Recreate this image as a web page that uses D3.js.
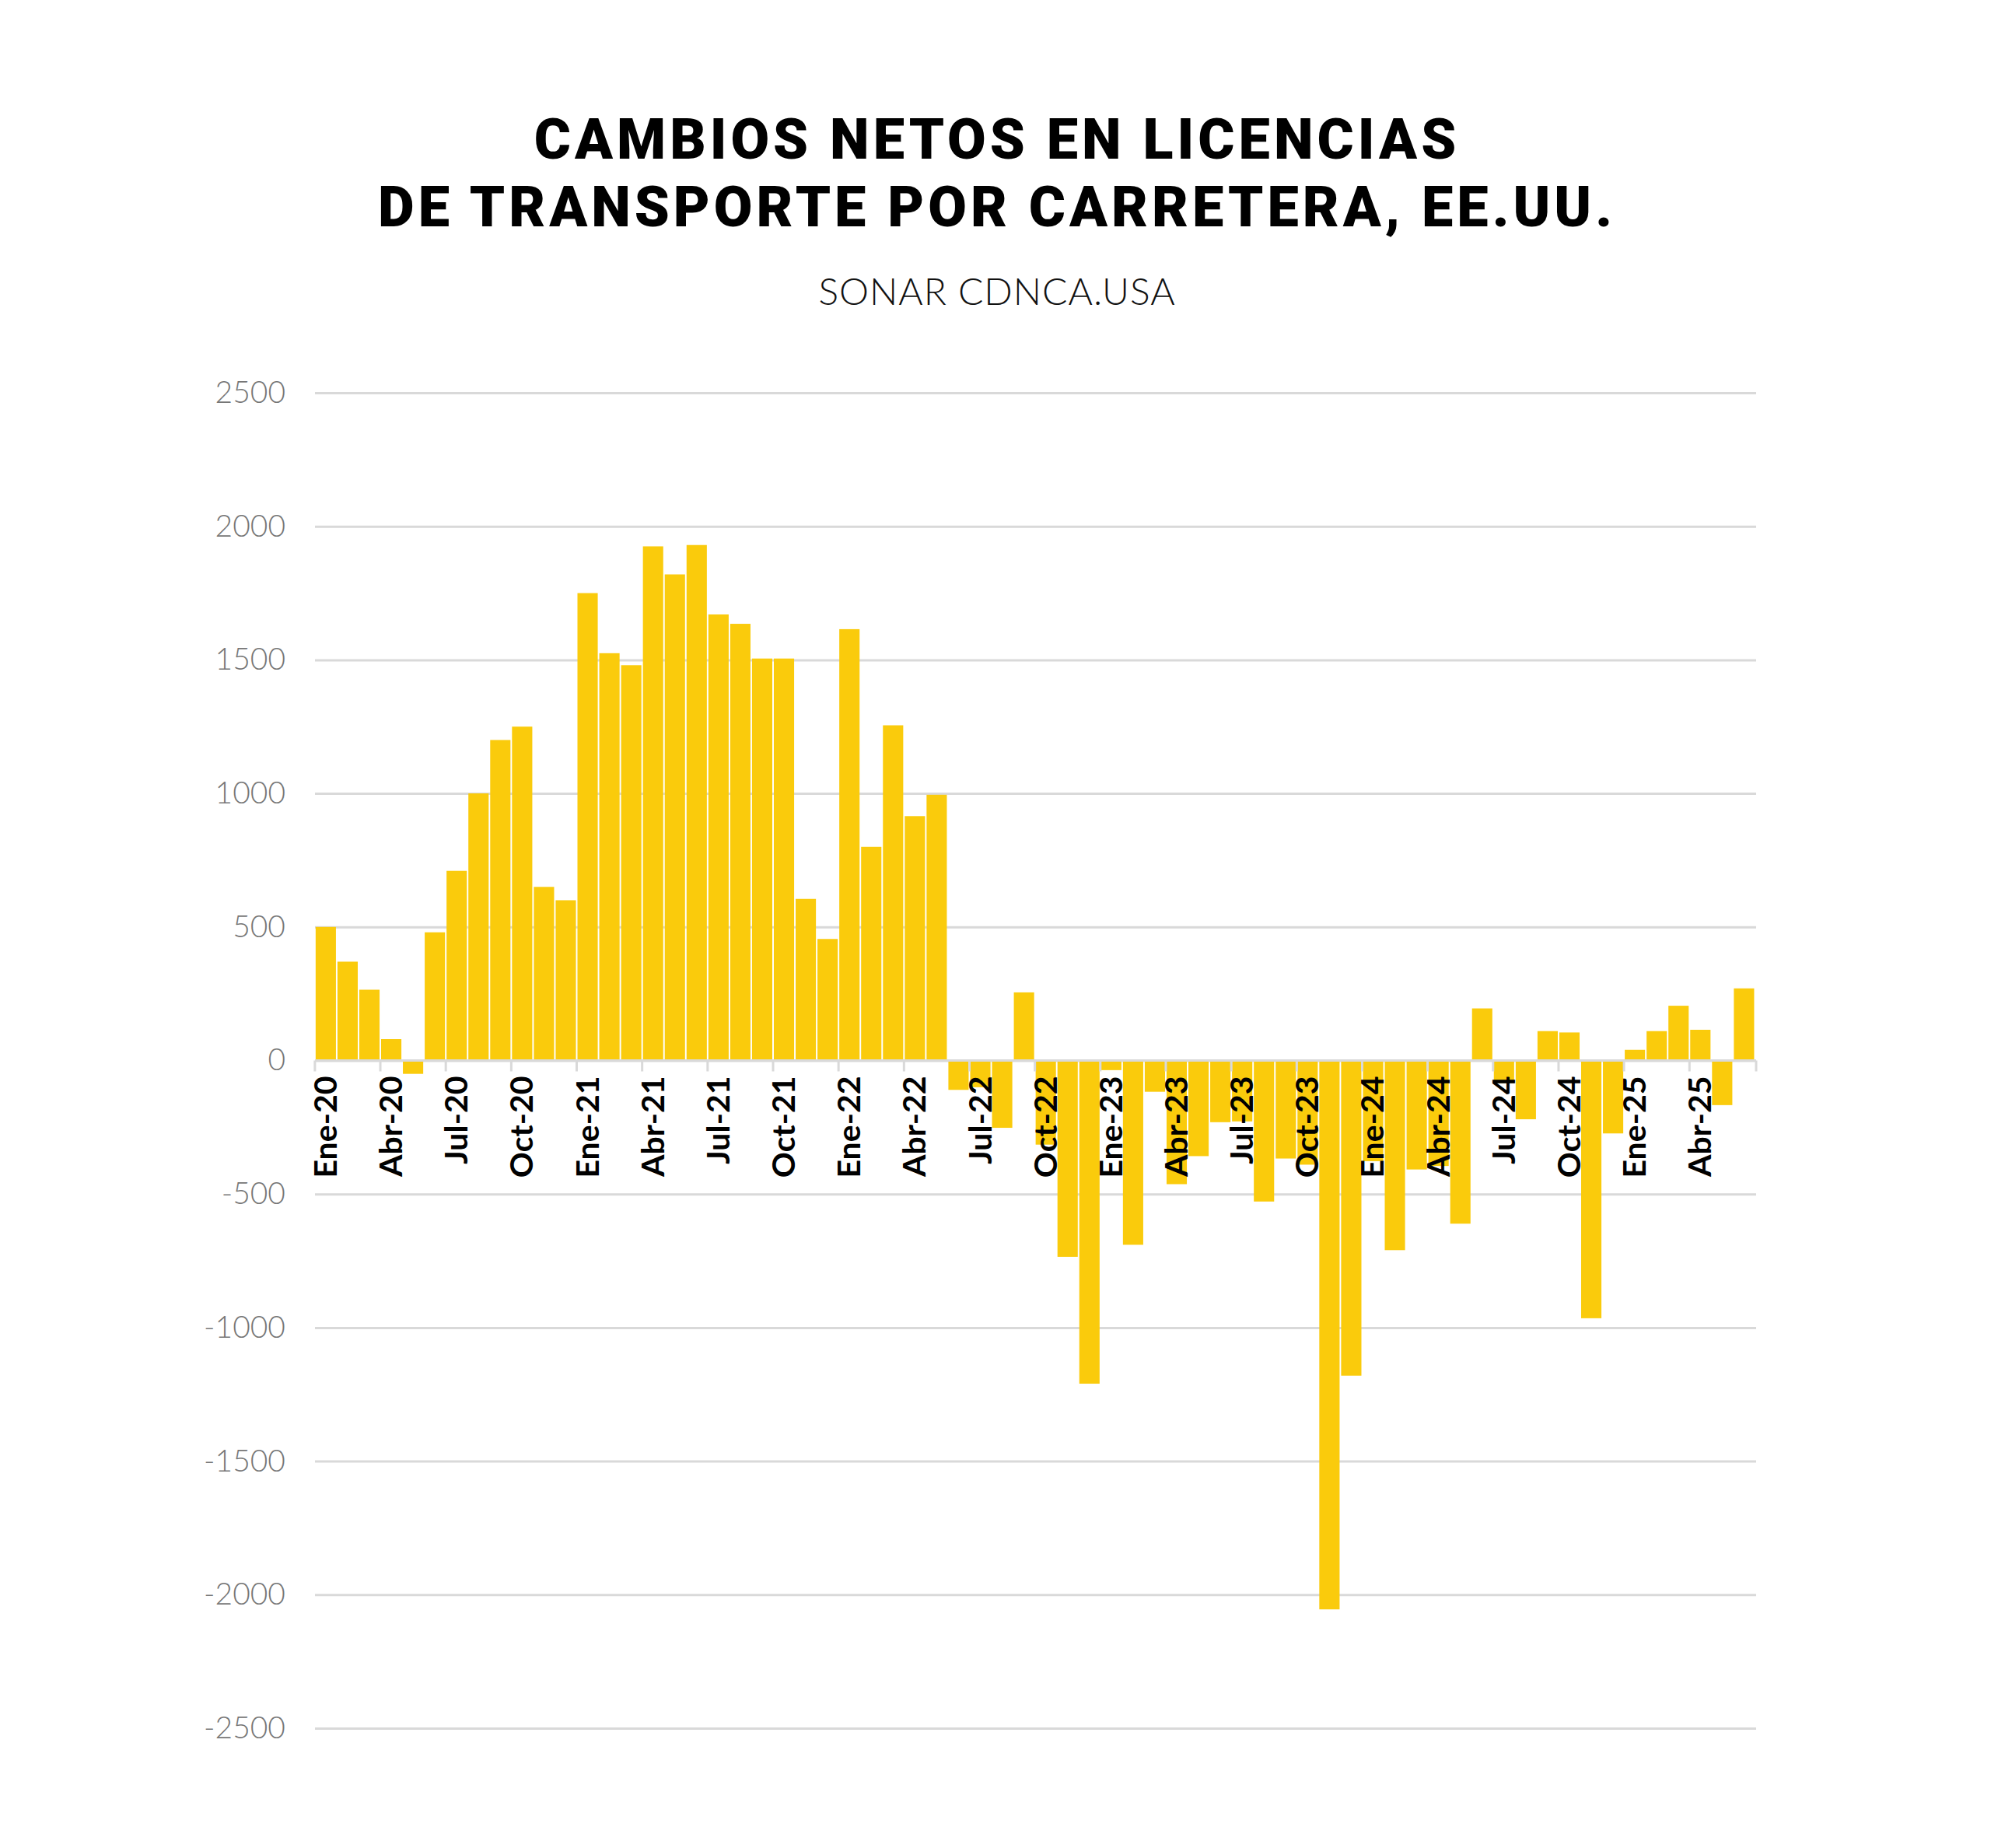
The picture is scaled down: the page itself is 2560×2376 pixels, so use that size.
<!DOCTYPE html><html><head><meta charset="utf-8">
<script src="https://cdn.jsdelivr.net/npm/d3@7"></script>
<style>body{margin:0;background:#fff}</style></head><body>
<svg id="c" width="2560" height="2376"></svg>
<script>
const months=["Ene","Feb","Mar","Abr","May","Jun","Jul","Ago","Sep","Oct","Nov","Dic"];
const years=["20","21","22","23","24","25"];
const categories=[];
years.forEach(y=>months.forEach(m=>categories.push(m+"-"+y)));
categories.length=66;
const values=[500,370,265,80,-50,480,710,1000,1200,1250,650,600,
1750,1525,1480,1925,1820,1930,1670,1635,1505,1505,605,455,
1615,800,1255,915,995,-110,-100,-252,255,-315,-735,-1210,
-36,-690,-117,-463,-358,-231,-228,-528,-367,-390,-2055,-1180,
-377,-710,-408,-395,-611,195,-85,-220,110,105,-965,-273,
40,110,205,115,-167,270];
const yTicks=[2500,2000,1500,1000,500,0,-500,-1000,-1500,-2000,-2500];
const tickLabels=categories.filter((d,i)=>i%3===0);
const svg=d3.select("#c");
const L=405,R=2258,T=505,B=2222;
const x=d3.scaleBand().domain(categories).range([L,L+66*28.05]).paddingInner(0.07).paddingOuter(0.03);
const y=d3.scaleLinear().domain([-2500,2500]).range([B,T]);
svg.append("text").attr("x",1282).attr("y",204).attr("text-anchor","middle").attr("font-family","Roboto").attr("font-weight",900).attr("font-size",72).attr("letter-spacing",5).text("CAMBIOS NETOS EN LICENCIAS");
svg.append("text").attr("x",1282).attr("y",291).attr("text-anchor","middle").attr("font-family","Roboto").attr("font-weight",900).attr("font-size",72).attr("letter-spacing",5).text("DE TRANSPORTE POR CARRETERA, EE.UU.");
svg.append("text").attr("x",1282).attr("y",392).attr("text-anchor","middle").attr("font-family","Lato").attr("font-weight",300).attr("font-size",48).attr("letter-spacing",1).attr("fill","#111").text("SONAR CDNCA.USA");
const ya=svg.append("g").attr("transform",`translate(${L},0)`).call(d3.axisLeft(y).tickValues(yTicks).tickSize(-(R-L)).tickFormat(d=>String(d)));
ya.select(".domain").remove();
ya.selectAll(".tick line").attr("stroke","#d9d9d9").attr("stroke-width",3);
ya.selectAll(".tick text").attr("x",-38).attr("fill","#777").attr("font-family","Lato").attr("font-weight",300).attr("font-size",39);
svg.append("g").selectAll("rect").data(values).join("rect")
 .attr("x",(d,i)=>x(categories[i])).attr("width",x.bandwidth())
 .attr("y",d=>y(Math.max(0,d))).attr("height",d=>Math.abs(y(d)-y(0))).attr("fill","#FACB0C");
const g=svg.append("g");
g.append("line").attr("x1",L).attr("x2",R).attr("y1",y(0)).attr("y2",y(0)).attr("stroke","#d9d9d9").attr("stroke-width",3);
tickLabels.concat([null]).forEach(c=>{
 const px=c?x(c)-x.step()*x.paddingInner()/2:R;
 g.append("line").attr("x1",px).attr("x2",px).attr("y1",y(0)).attr("y2",y(0)+14).attr("stroke","#d9d9d9").attr("stroke-width",3);
});
tickLabels.forEach(c=>{
 const cx=x(c)+x.bandwidth()/2;
 g.append("text").attr("transform",`translate(${cx+14},${y(0)+20}) rotate(-90)`).attr("text-anchor","end")
  .attr("font-family","Lato").attr("font-weight",700).attr("font-size",41).attr("fill","#000").text(c);
});
</script></body></html>
